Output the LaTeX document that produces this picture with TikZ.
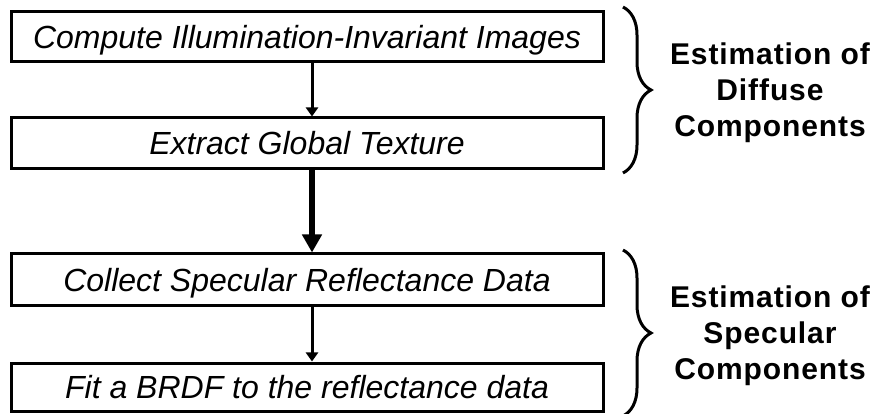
\documentclass[tikz,border=0pt]{standalone}
\usepackage{fontspec}
\setmainfont{Liberation Sans}
\newfontfamily\labelfont[LetterSpace=3]{Liberation Sans}
\usetikzlibrary{arrows.meta,decorations.pathreplacing}

\begin{document}
\begin{tikzpicture}[x=1pt,y=-1pt,
  stepbox/.style={draw=black,line width=3pt,minimum width=592pt,inner sep=0pt,
    font=\fontsize{32}{36}\selectfont\itshape,text height=22.5pt,text depth=0pt},
  grouplabel/.style={align=center,font=\labelfont\fontsize{30}{36}\selectfont\bfseries,inner sep=0pt},
  thinarrow/.style={line width=3pt,-{Triangle[width=12pt,length=9pt]}},
  thickarrow/.style={line width=6.5pt,-{Triangle[width=19pt,length=18pt]}},
  groupbrace/.style={line width=3pt,decorate,decoration={brace,amplitude=28pt}}]
  \useasboundingbox (0,0) rectangle (879,414);

  % processing steps
  \node[stepbox,minimum height=50pt] (b1) at (307,37) {Compute Illumination-Invariant Images};
  \node[stepbox,minimum height=51pt] (b2) at (307,143.5) {Extract Global Texture};
  \node[stepbox,minimum height=52pt] (b3) at (307,280) {Collect Specular Reflectance Data};
  \node[stepbox,minimum height=48pt] (b4) at (307,387) {Fit a BRDF to the reflectance data};

  % connectors
  \coordinate (ax) at (312,0);
  \draw[thinarrow] (b1.south -| ax) -- (b2.north -| ax);
  \draw[thickarrow] (b2.south -| ax) -- (b3.north -| ax);
  \draw[thinarrow] (b3.south -| ax) -- (b4.north -| ax);

  % braces and group labels
  \coordinate (d1) at (623,7);
  \coordinate (d2) at (623,173);
  \coordinate (s1) at (623,250);
  \coordinate (s2) at (623,416);
  \draw[groupbrace] (d1) -- (d2);
  \draw[groupbrace] (s1) -- (s2);
  \node[grouplabel] (ld) at (770,93) {Estimation of\\Diffuse\\Components};
  \node[grouplabel] (ls) at (770,336) {Estimation of\\Specular\\Components};
\end{tikzpicture}
\end{document}
